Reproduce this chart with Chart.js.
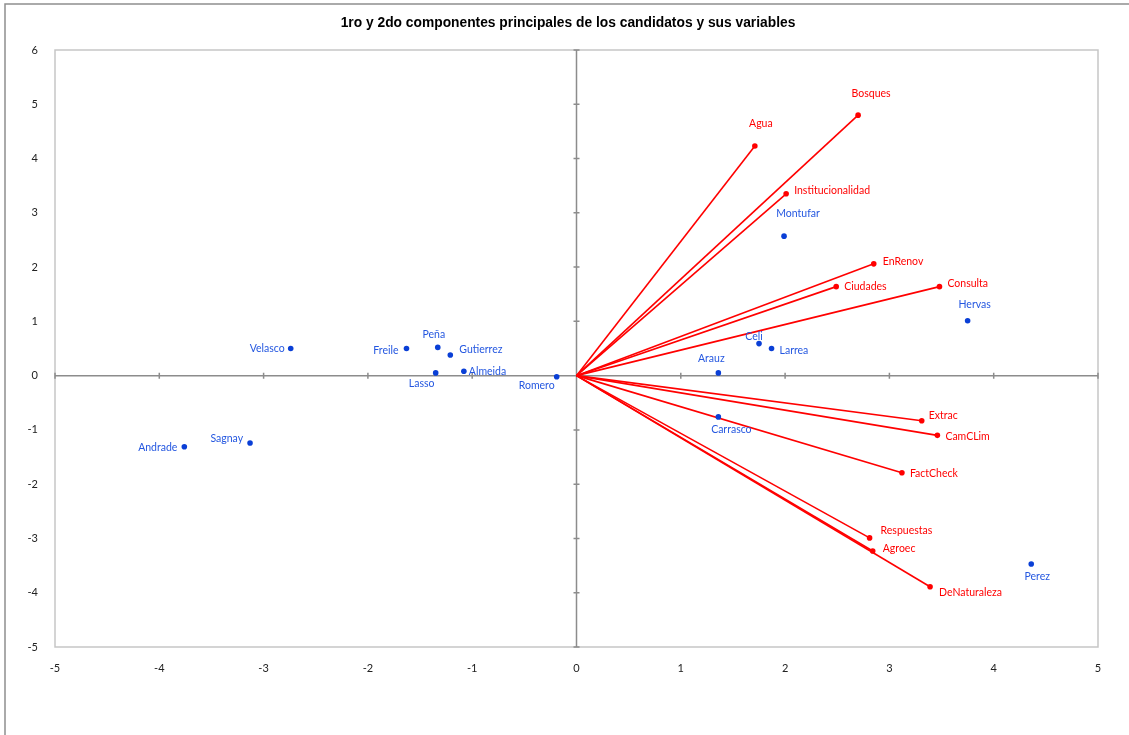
<!DOCTYPE html>
<html>
<head>
<meta charset="utf-8">
<script src="https://cdn.jsdelivr.net/npm/chart.js@4.4.1/dist/chart.umd.min.js"></script>
<style>
  html, body { margin: 0; background: #fff; }
  #wrap { width: 1129px; height: 735px; }
</style>
</head>
<body>
<div id="wrap"><canvas id="pca"></canvas></div>
<script>
// candidatos (componente 1, componente 2)
const candidatos = ['Velasco', 'Freile', 'Peña', 'Gutierrez', 'Almeida', 'Lasso', 'Romero', 'Andrade',
  'Sagnay', 'Arauz', 'Celi', 'Larrea', 'Montufar', 'Hervas', 'Carrasco', 'Perez'];
const candX = [-2.74, -1.63, -1.33, -1.21, -1.08, -1.35, -0.19, -3.76, -3.13, 1.36, 1.75, 1.87, 1.99, 3.75, 1.36, 4.36];
const candY = [0.50, 0.50, 0.52, 0.38, 0.08, 0.05, -0.02, -1.31, -1.24, 0.05, 0.59, 0.50, 2.57, 1.01, -0.76, -3.47];

// variables (cargas)
const variables = ['Bosques', 'Agua', 'Institucionalidad', 'EnRenov', 'Ciudades', 'Consulta', 'Extrac',
  'CamCLim', 'FactCheck', 'Respuestas', 'Agroec', 'DeNaturaleza'];
const varX = [2.70, 1.71, 2.01, 2.85, 2.49, 3.48, 3.31, 3.46, 3.12, 2.81, 2.84, 3.39];
const varY = [4.80, 4.23, 3.35, 2.06, 1.64, 1.64, -0.83, -1.10, -1.79, -2.99, -3.23, -3.89];

const xTicks = [-5, -4, -3, -2, -1, 0, 1, 2, 3, 4, 5];
const yTicks = [-5, -4, -3, -2, -1, 0, 1, 2, 3, 4, 5, 6];

const titulo = '1ro y 2do componentes principales de los candidatos y sus variables';

// label placement (style only): [dx, dy, align]
const candLabelPos = [[-6, 0, 'right'], [-8, 2, 'right'], [-4, -13, 'center'], [9, -5, 'left'], [5, 0, 'left'],
  [-14, 11, 'center'], [-20, 9, 'center'], [-7, 1, 'right'], [-7, -4, 'right'], [-7, -14, 'center'],
  [-5, -7, 'center'], [8, 2, 'left'], [14, -23, 'center'], [7, -16, 'center'], [13, 13, 'center'], [6, 13, 'center']];
const varLabelPos = [[13, -22, 'center'], [6, -22, 'center'], [8, -3, 'left'], [9, -2, 'left'], [8, 0, 'left'],
  [8, -3, 'left'], [7, -5, 'left'], [8, 1, 'left'], [8, 1, 'left'], [11, -7, 'left'], [10, -2, 'left'], [9, 6, 'left']];

const RED = '#ff0000';
const BLUE = '#0a3fd6';
const BLUE_TXT = '#2457e0';
const LABEL_FONT = '10.5px Lato, "Open Sans", sans-serif';

const datasets = [{
  label: 'candidatos',
  data: candidatos.map((n, i) => ({ x: candX[i], y: candY[i] })),
  pointRadius: 2.8,
  pointHoverRadius: 2.8,
  backgroundColor: BLUE,
  borderWidth: 0
}];
variables.forEach((n, i) => {
  datasets.push({
    label: n,
    data: [{ x: 0, y: 0 }, { x: varX[i], y: varY[i] }],
    showLine: true,
    borderColor: RED,
    borderWidth: 1.6,
    pointRadius: [0, 2.8],
    pointBackgroundColor: RED,
    pointBorderWidth: 0
  });
});

const decor = {
  id: 'decor',
  beforeDraw(chart) {
    const c = chart.ctx;
    c.save();
    c.fillStyle = '#fff';
    c.fillRect(0, 0, chart.width, chart.height);
    // outer frame
    c.strokeStyle = '#8f8f8f';
    c.lineWidth = 1.5;
    c.beginPath();
    c.moveTo(5, chart.height);
    c.lineTo(5, 4);
    c.lineTo(chart.width, 4);
    c.stroke();
    // title
    c.fillStyle = '#000';
    c.font = 'bold 13.8px "Liberation Sans", Arial, sans-serif';
    c.textAlign = 'center';
    c.textBaseline = 'middle';
    c.fillText(titulo, 568, 23);
    c.restore();
  },
  beforeDatasetsDraw(chart) {
    const c = chart.ctx;
    const a = chart.chartArea;
    const sx = chart.scales.x, sy = chart.scales.y;
    const x0 = sx.getPixelForValue(0), y0 = sy.getPixelForValue(0);
    c.save();
    c.strokeStyle = '#c6c6c6';
    c.lineWidth = 1.5;
    c.strokeRect(a.left, a.top, a.right - a.left, a.bottom - a.top);
    c.strokeStyle = '#8c8c8c';
    c.lineWidth = 1.5;
    c.beginPath();
    c.moveTo(a.left, y0); c.lineTo(a.right, y0);
    c.moveTo(x0, a.top); c.lineTo(x0, a.bottom);
    xTicks.forEach(v => {
      const p = sx.getPixelForValue(v);
      c.moveTo(p, y0 - 3); c.lineTo(p, y0 + 3);
    });
    yTicks.forEach(v => {
      const p = sy.getPixelForValue(v);
      c.moveTo(x0 - 3, p); c.lineTo(x0 + 3, p);
    });
    c.stroke();
    c.restore();
  },
  afterDatasetsDraw(chart) {
    const c = chart.ctx;
    const sx = chart.scales.x, sy = chart.scales.y;
    c.save();
    c.font = LABEL_FONT;
    c.textBaseline = 'middle';
    const put = (txt, x, y, pos, color) => {
      c.fillStyle = color;
      c.textAlign = pos[2];
      c.fillText(txt, sx.getPixelForValue(x) + pos[0], sy.getPixelForValue(y) + pos[1]);
    };
    candidatos.forEach((n, i) => put(n, candX[i], candY[i], candLabelPos[i], BLUE_TXT));
    variables.forEach((n, i) => put(n, varX[i], varY[i], varLabelPos[i], RED));
    c.restore();
  }
};

const tickFont = { family: 'Lato, "Open Sans", sans-serif', size: 11 };

new Chart(document.getElementById('pca'), {
  type: 'scatter',
  data: { datasets: datasets },
  options: {
    responsive: true,
    maintainAspectRatio: false,
    animation: false,
    layout: { padding: { top: 50, right: 31, bottom: 58, left: 0 } },
    plugins: {
      legend: { display: false },
      title: { display: false },
      tooltip: { enabled: false }
    },
    scales: {
      x: {
        type: 'linear',
        min: -5,
        max: 5,
        grid: { display: false },
        border: { display: false },
        afterBuildTicks: s => { s.ticks = xTicks.map(v => ({ value: v })); },
        afterFit: s => { s.height = 30; },
        ticks: { font: tickFont, color: '#222', padding: 7, maxRotation: 0 }
      },
      y: {
        type: 'linear',
        min: -5,
        max: 6,
        grid: { display: false },
        border: { display: false },
        afterBuildTicks: s => { s.ticks = yTicks.map(v => ({ value: v })); },
        afterFit: s => { s.width = 55; },
        ticks: { font: tickFont, color: '#222', padding: 9 }
      }
    }
  },
  plugins: [decor]
});
</script>
</body>
</html>
